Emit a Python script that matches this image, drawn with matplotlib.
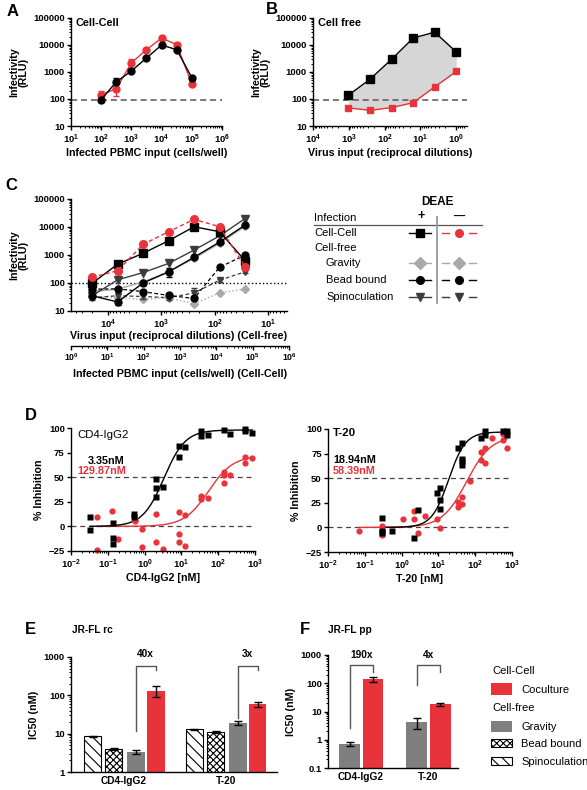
import numpy as np
import matplotlib
matplotlib.use("Agg")
import matplotlib.pyplot as plt
from matplotlib.ticker import LogLocator, NullFormatter, FixedLocator, FuncFormatter
from matplotlib.patches import Rectangle

plt.rcParams['font.family'] = ['Liberation Sans', 'DejaVu Sans']
plt.rcParams['font.weight'] = 'bold'
plt.rcParams['axes.labelweight'] = 'bold'
plt.rcParams['mathtext.fontset'] = 'custom'
plt.rcParams['mathtext.rm'] = 'Liberation Sans:bold'
plt.rcParams['mathtext.bf'] = 'Liberation Sans:bold'
plt.rcParams['mathtext.it'] = 'Liberation Sans:bold'
plt.rcParams['hatch.linewidth'] = 0.8

RED = '#E8333A'
GRAYBAR = '#7f7f7f'
LGRAY = '#a9a9a9'
DGRAY = '#3c3c3c'

# ---------------- data ----------------
# Panel A: cell-cell
pbmc_A = [100, 316, 1000, 3162, 10000, 31623, 100000]
A_black = [95, 430, 1090, 3300, 10000, 6700, 620]
A_black_err = [20, 150, 120, 300, 600, 700, 120]
A_red = [145, 240, 2200, 6700, 18000, 10300, 370]
A_red_err = [50, 110, 800, 800, 1500, 900, 50]
A_cutoff = 90

# Panel B: cell free
dil_B = [1024, 256, 64, 16, 4, 1]
B_black = [138, 540, 2950, 18000, 30000, 5500]
B_red = [47, 38, 48, 73, 280, 1050]
B_cutoff = 90

# Panel C
dil_C = [19683, 6561, 2187, 729, 243, 81, 27]
C_cc_plus = [98, 470, 1150, 3240, 10200, 6800, 630]
C_cc_minus = [160, 275, 2400, 6800, 18700, 10300, 380]
C_cc_minus_err = [40, 60, 700, 400, 800, 600, 60]
C_grav_plus = [50, 60, 110, 250, 750, 2600, 10500]
C_grav_minus = [33, 30, 26, 30, 18, 45, 60]
C_bead_plus = [35, 21, 100, 250, 830, 2900, 11700]
C_bead_plus_err = [5, 4, 15, 80, 100, 300, 800]
C_bead_minus = [60, 62, 49, 36, 28, 365, 1000]
C_spin_plus = [35, 130, 235, 500, 1500, 4800, 20000]
C_spin_minus = [30, 35, 33, 30, 44, 126, 250]
C_spin_minus_err = [5, 8, 6, 5, 20, 15, 30]
C_cutoff = 100

# Panel D: CD4-IgG2
D1_bx = [0.033, 0.033, 0.14, 0.14, 0.14, 0.51, 0.51, 2.1, 2.1, 2.1, 3.2, 8.7, 8.7, 12.6, 35, 35, 54, 145, 210, 540, 540, 850]
D1_by = [10, -4, 3, -12, -18, 13, 10, 48, 39, 30, 40, 71, 82, 81, 97, 92, 93, 98, 94, 99, 97, 95]
D1_rx = [0.05, 0.05, 0.13, 0.19, 0.55, 0.55, 0.83, 0.83, 2.1, 2.1, 3.2, 8.7, 8.7, 8.7, 12.6, 12.6, 35, 35, 54, 145, 145, 145, 210, 540, 540, 850]
D1_ry = [10, -24, 16, -13, 5, 7, -3, -21, 13, -16, -23, 15, -8, -16, 12, -20, 31, 28, 29, 44, 52, 55, 52, 64, 71, 70]
D1_black_fit = dict(top=98, ic50=3.35, hill=1.5)
D1_red_fit = dict(top=72, ic50=55, hill=1.3)
D1_labels = ['3.35nM', '129.87nM']

# Panel D: T-20
D2_bx = [0.30, 0.30, 0.30, 0.54, 2.2, 2.75, 8.9, 11.2, 11.2, 11.2, 35, 45, 45, 45, 45, 145, 186, 186, 560, 720, 720]
D2_by = [10, -4, -6, -4, -11, 18, 35, 40, 28, 19, 81, 86, 70, 63, 67, 91, 98, 94, 98, 98, 94]
D2_rx = [0.07, 0.30, 0.30, 0.30, 1.1, 2.2, 2.2, 2.75, 4.4, 8.9, 11.2, 35, 35, 45, 45, 73, 145, 145, 186, 186, 280, 560, 720, 560]
D2_ry = [-4, 1, -8, -3, 9, 9, 17, -6, 12, 9, -1, 26, 21, 31, 24, 47, 69, 77, 65, 81, 91, 89, 81, 95]
D2_black_fit = dict(top=97, ic50=18.94, hill=1.9)
D2_red_fit = dict(top=93, ic50=58.39, hill=1.3)
D2_labels = ['18.94nM', '58.39nM']

# Panel E: JR-FL rc
groups = ['CD4-IgG2', 'T-20']
E_spin = [8.5, 13]; E_spin_err = [0.3, 0.6]
E_bead = [3.9, 11]; E_bead_err = [0.25, 0.6]
E_grav = [3.4, 19]; E_grav_err = [0.45, 2.2]
E_cocult = [130, 60]; E_cocult_err = [40, 9]
E_fold = ['40x', '3x']

# Panel F: JR-FL pp
F_grav = [0.72, 4.2]; F_grav_err = [0.1, 1.8]
F_cocult = [140, 18]; F_cocult_err = [28, 2.5]
F_fold = ['190x', '4x']

# ---------------- figure ----------------
W, H = 587, 790
fig = plt.figure(figsize=(W / 100, H / 100), dpi=100)
ov = fig.add_axes([0, 0, 1, 1])
ov.set_xlim(0, W); ov.set_ylim(H, 0); ov.axis('off')


def place(l, t, r, b):
    return fig.add_axes([l / W, 1 - b / H, (r - l) / W, (b - t) / H])


def decade_fmt(v, p):
    e = int(round(np.log10(v)))
    return r'$10^{%d}$' % e


def style(ax, fs=6.8):
    for s in ['top', 'right']:
        ax.spines[s].set_visible(False)
    for s in ['left', 'bottom']:
        ax.spines[s].set_linewidth(1.0)
    ax.tick_params(which='major', length=3, width=1, labelsize=fs, pad=1.5)
    ax.tick_params(which='minor', length=1.6, width=0.7)
    ax.patch.set_alpha(0)


def logx(ax, lo, hi):
    ax.set_xscale('log')
    ax.set_xlim(lo, hi)
    ax.xaxis.set_major_locator(LogLocator(base=10, numticks=20))
    ax.xaxis.set_minor_locator(LogLocator(base=10, subs=np.arange(2, 10), numticks=20))
    ax.xaxis.set_major_formatter(FuncFormatter(decade_fmt))
    ax.xaxis.set_minor_formatter(NullFormatter())


def logy_rlu(ax):
    ax.set_yscale('log')
    ax.set_ylim(10, 1e5)
    ax.yaxis.set_major_locator(FixedLocator([10, 100, 1000, 1e4, 1e5]))
    ax.yaxis.set_major_formatter(FuncFormatter(lambda v, p: '%d' % v))
    ax.yaxis.set_minor_locator(LogLocator(base=10, subs=np.arange(2, 10), numticks=20))
    ax.yaxis.set_minor_formatter(NullFormatter())


LBL = 7.7

# ---- Panel A ----
axA = place(71, 18, 222, 126)
style(axA)
logx(axA, 10, 1e6)
logy_rlu(axA)
axA.axhline(A_cutoff, color='#555555', lw=1.1, dashes=(4, 2.5))
axA.errorbar(pbmc_A, A_red, yerr=A_red_err, color=RED, marker='o', ms=5, lw=1, capsize=2, elinewidth=0.9)
axA.errorbar(pbmc_A, A_black, yerr=A_black_err, color='black', marker='o', ms=5, lw=1, capsize=2, elinewidth=0.9)
axA.set_xlabel('Infected PBMC input (cells/well)', fontsize=LBL, labelpad=2)
axA.set_ylabel('Infectivity\n(RLU)', fontsize=LBL, labelpad=3, linespacing=1.0)
axA.text(0.03, 1.0, 'Cell-Cell', transform=axA.transAxes, fontsize=7.8, va='top', ha='left')

# ---- Panel B ----
axB = place(313, 18, 467, 126)
style(axB)
logx(axB, 1e4, 10 ** -0.3)
logy_rlu(axB)
axB.fill_between(dil_B, B_red, B_black, color='#d6d6d6', lw=0)
axB.axhline(B_cutoff, color='#555555', lw=1.1, dashes=(4, 2.5))
axB.plot(dil_B, B_red, color=RED, marker='s', ms=5, lw=1)
axB.plot(dil_B, B_black, color='black', marker='s', ms=5.5, lw=1)
axB.set_xlabel('Virus input (reciprocal dilutions)', fontsize=LBL, labelpad=2)
axB.set_ylabel('Infectivity\n(RLU)', fontsize=LBL, labelpad=3, linespacing=1.0)
axB.text(0.03, 1.0, 'Cell free', transform=axB.transAxes, fontsize=7.8, va='top', ha='left')

# ---- Panel C ----
axC = place(71, 199, 287, 311)
style(axC)
logx(axC, 10 ** 4.69, 10 ** 0.645)
logy_rlu(axC)
axC.axhline(C_cutoff, color='black', lw=1.0, ls=':')
ms = 5
axC.plot(dil_C, C_grav_minus, color=LGRAY, marker='D', ms=4.5, lw=1, ls=':')
axC.plot(dil_C, C_grav_plus, color=LGRAY, marker='D', ms=4.5, lw=1)
axC.errorbar(dil_C, C_spin_minus, yerr=C_spin_minus_err, color=DGRAY, marker='v', ms=ms, lw=0.9, ls='--', capsize=2, dashes=(3, 2))
axC.errorbar(dil_C, C_bead_minus, color='black', marker='o', ms=ms, lw=0.9, ls='--', dashes=(3, 2))
axC.plot(dil_C, C_spin_plus, color=DGRAY, marker='v', ms=ms + 0.5, lw=1)
axC.errorbar(dil_C, C_bead_plus, yerr=C_bead_plus_err, color='black', marker='o', ms=ms, lw=1, capsize=2)
axC.errorbar(dil_C, C_cc_minus, yerr=C_cc_minus_err, color=RED, marker='o', ms=ms + 0.5, lw=1, ls='--', dashes=(3, 2), capsize=2)
axC.plot(dil_C, C_cc_plus, color='black', marker='s', ms=ms + 0.5, lw=1)
axC.set_xlabel('Virus input (reciprocal dilutions) (Cell-free)', fontsize=LBL, labelpad=0)
axC.set_ylabel('Infectivity\n(RLU)', fontsize=LBL, labelpad=3, linespacing=1.0)

axC2 = place(71, 345, 289, 345.5)
style(axC2, fs=6.2)
axC2.spines['left'].set_visible(False)
axC2.set_yticks([])
logx(axC2, 1, 1e6)
axC2.set_xlabel('Infected PBMC input (cells/well) (Cell-Cell)', fontsize=LBL, labelpad=4)

# C legend table
tfs = 8
ov.text(437, 202, 'DEAE', fontsize=8.5, ha='center', va='center', fontweight='bold')
ov.text(314, 218, 'Infection', fontsize=tfs, ha='left', va='center', fontweight='normal')
ov.text(421, 216, '+', fontsize=9, ha='center', va='center', fontweight='bold')
ov.text(460, 217, '\u2014', fontsize=8, ha='center', va='center', fontweight='bold')
ov.plot([314, 482], [225, 225], color='#555555', lw=0.9)
ov.plot([437, 437], [217, 303], color='#999999', lw=1.3)
rows = [('Cell-Cell', 233, 314), ('Cell-free', 248, 314), ('Gravity', 263, 326),
        ('Bead bound', 280, 326), ('Spinoculation', 297, 326)]
for name, y, x in rows:
    ov.text(x, y, name, fontsize=tfs, ha='left', va='center', fontweight='normal')
legend_syms = [(233, 's', 'black', RED, 'o'), (263, 'D', LGRAY, LGRAY, 'D'),
               (280, 'o', 'black', 'black', 'o'), (297, 'v', DGRAY, DGRAY, 'v')]
for y, m1, c1, c2, m2 in legend_syms:
    ov.plot([409, 431], [y, y], color=c1, lw=1)
    ov.plot([420], [y], marker=m1, color=c1, ms=5.5 if m1 != 'D' else 6)
    ov.plot([442, 449], [y, y], color=c2, lw=1)
    ov.plot([469, 476], [y, y], color=c2, lw=1)
    ov.plot([459], [y], marker=m2, color=c2, ms=5.5 if m2 != 'D' else 6)


# ---- Panel D ----
def hill(x, top, ic50, hill):
    return top / (1 + (ic50 / x) ** hill)


def dpanel(ax, bx, by, rx, ry, bfit, rfit, xlab):
    style(ax)
    logx(ax, 1e-2, 1e3)
    ax.set_ylim(-25, 100)
    ax.set_yticks([-25, 0, 25, 50, 75, 100])
    ax.axhline(0, color='#444444', lw=0.9, dashes=(4, 3))
    ax.axhline(50, color='#444444', lw=0.9, dashes=(4, 3))
    xb = np.logspace(np.log10(min(bx)), np.log10(max(bx)), 200)
    xr = np.logspace(np.log10(min(rx)), np.log10(max(rx)), 200)
    ax.plot(xr, hill(xr, **rfit), color=RED, lw=1)
    ax.plot(xb, hill(xb, **bfit), color='black', lw=1)
    ax.plot(rx, ry, 'o', color=RED, ms=4.5, mec='none', clip_on=False)
    ax.plot(bx, by, 's', color='black', ms=5, mec='none', clip_on=False)
    ax.set_xlabel(xlab, fontsize=LBL, labelpad=2)
    ax.set_ylabel('% Inhibition', fontsize=LBL, labelpad=3)


axD1 = place(71, 428, 255, 551)
dpanel(axD1, D1_bx, D1_by, D1_rx, D1_ry, D1_black_fit, D1_red_fit, 'CD4-IgG2 [nM]')
axD2 = place(328, 429, 512, 552)
dpanel(axD2, D2_bx, D2_by, D2_rx, D2_ry, D2_black_fit, D2_red_fit, 'T-20 [nM]')
ov.text(77, 435, 'CD4-IgG2', fontsize=8.2, ha='left', va='center', fontweight='normal')
ov.text(88, 461, D1_labels[0], fontsize=7.8, ha='left', va='center')
ov.text(77, 471, D1_labels[1], fontsize=7.8, ha='left', va='center', color=RED)
ov.text(333, 433, 'T-20', fontsize=8.2, ha='left', va='center')
ov.text(333, 460, D2_labels[0], fontsize=7.8, ha='left', va='center')
ov.text(333, 471, D2_labels[1], fontsize=7.8, ha='left', va='center', color=RED)


# ---- Panel E ----
def ic50_axes(ax, lo):
    style(ax)
    ax.set_yscale('log')
    ax.set_ylim(lo, 1000)
    ticks = [t for t in [0.1, 1, 10, 100, 1000] if t >= lo]
    ax.yaxis.set_major_locator(FixedLocator(ticks))
    ax.yaxis.set_major_formatter(FuncFormatter(lambda v, p: ('%g' % v)))
    ax.yaxis.set_minor_locator(LogLocator(base=10, subs=np.arange(2, 10), numticks=20))
    ax.yaxis.set_minor_formatter(NullFormatter())
    ax.set_ylabel('IC50 (nM)', fontsize=LBL, labelpad=3)
    ax.tick_params(axis='x', length=0, labelsize=7.3, pad=3)


def bracket(ax, x1, x2, ylow1, ytop, ylow2, label):
    ax.plot([x1, x1, x2, x2], [ylow1, ytop, ytop, ylow2], color='#555555', lw=1, clip_on=False)
    ax.text((x1 + x2) / 2, ytop * 1.55, label, ha='center', va='bottom', fontsize=7.3)


axE = place(71, 657, 277, 772)
ic50_axes(axE, 1)
x = np.arange(len(groups))
bw = 0.176
ek = dict(ecolor='black', capsize=3, elinewidth=1, capthick=1)
axE.bar(x - 0.309, E_spin, bw, yerr=E_spin_err, color='white', edgecolor='black', hatch='\\\\\\', lw=0.8, error_kw=ek)
axE.bar(x - 0.103, E_bead, bw, yerr=E_bead_err, color='white', edgecolor='black', hatch='xxxxx', lw=0.8, error_kw=ek)
axE.bar(x + 0.113, E_grav, bw, yerr=E_grav_err, color=GRAYBAR, error_kw=ek)
axE.bar(x + 0.309, E_cocult, bw, yerr=E_cocult_err, color=RED, error_kw=ek)
axE.set_xlim(-0.52, 1.5)
axE.set_xticks(x)
axE.set_xticklabels(groups)
bracket(axE, 0.113, 0.309, 11.5, 580, 450, E_fold[0])
bracket(axE, 1.113, 1.309, 25, 580, 450, E_fold[1])
ov.text(25, 630, 'E', fontsize=12, ha='left', va='center')
ov.text(72, 630, 'JR-FL rc', fontsize=7.3, ha='left', va='center')

# ---- Panel F ----
axF = place(328, 655, 458, 768)
ic50_axes(axF, 0.1)
bw2 = 0.31
axF.bar(x - 0.17, F_grav, bw2, yerr=F_grav_err, color=GRAYBAR, error_kw=ek)
axF.bar(x + 0.178, F_cocult, bw2, yerr=F_cocult_err, color=RED, error_kw=ek)
axF.set_xlim(-0.49, 1.44)
axF.set_xticks(x)
axF.set_xticklabels(groups)
bracket(axF, -0.17, 0.178, 2.6, 445, 260, F_fold[0])
bracket(axF, 0.83, 1.178, 87, 445, 260, F_fold[1])
ov.text(300, 630, 'F', fontsize=12, ha='left', va='center')
ov.text(328, 630, 'JR-FL pp', fontsize=7.3, ha='left', va='center')

# F legend
lfs = 8
ov.text(492, 671, 'Cell-Cell', fontsize=lfs, ha='left', va='center', fontweight='normal')
ov.add_patch(Rectangle((491, 683), 21, 12, facecolor=RED, edgecolor='none'))
ov.text(521, 690, 'Coculture', fontsize=lfs, ha='left', va='center', fontweight='normal')
ov.text(492, 708, 'Cell-free', fontsize=lfs, ha='left', va='center', fontweight='normal')
ov.add_patch(Rectangle((491, 721), 21, 11, facecolor=GRAYBAR, edgecolor='none'))
ov.text(521, 727, 'Gravity', fontsize=lfs, ha='left', va='center', fontweight='normal')
ov.add_patch(Rectangle((491, 739), 21, 8, facecolor='white', edgecolor='black', hatch='xxxxx', lw=0.8))
ov.text(521, 744, 'Bead bound', fontsize=lfs, ha='left', va='center', fontweight='normal')
ov.add_patch(Rectangle((491, 757), 21, 8, facecolor='white', edgecolor='black', hatch='\\\\\\', lw=0.8))
ov.text(521, 762, 'Spinoculation', fontsize=lfs, ha='left', va='center', fontweight='normal')

# panel letters
for letter, px, py in [('A', 7, 12), ('B', 266, 10), ('C', 5, 185), ('D', 25, 415)]:
    ov.text(px, py, letter, fontsize=12, ha='left', va='center')

fig.savefig('out.png', dpi=100)
